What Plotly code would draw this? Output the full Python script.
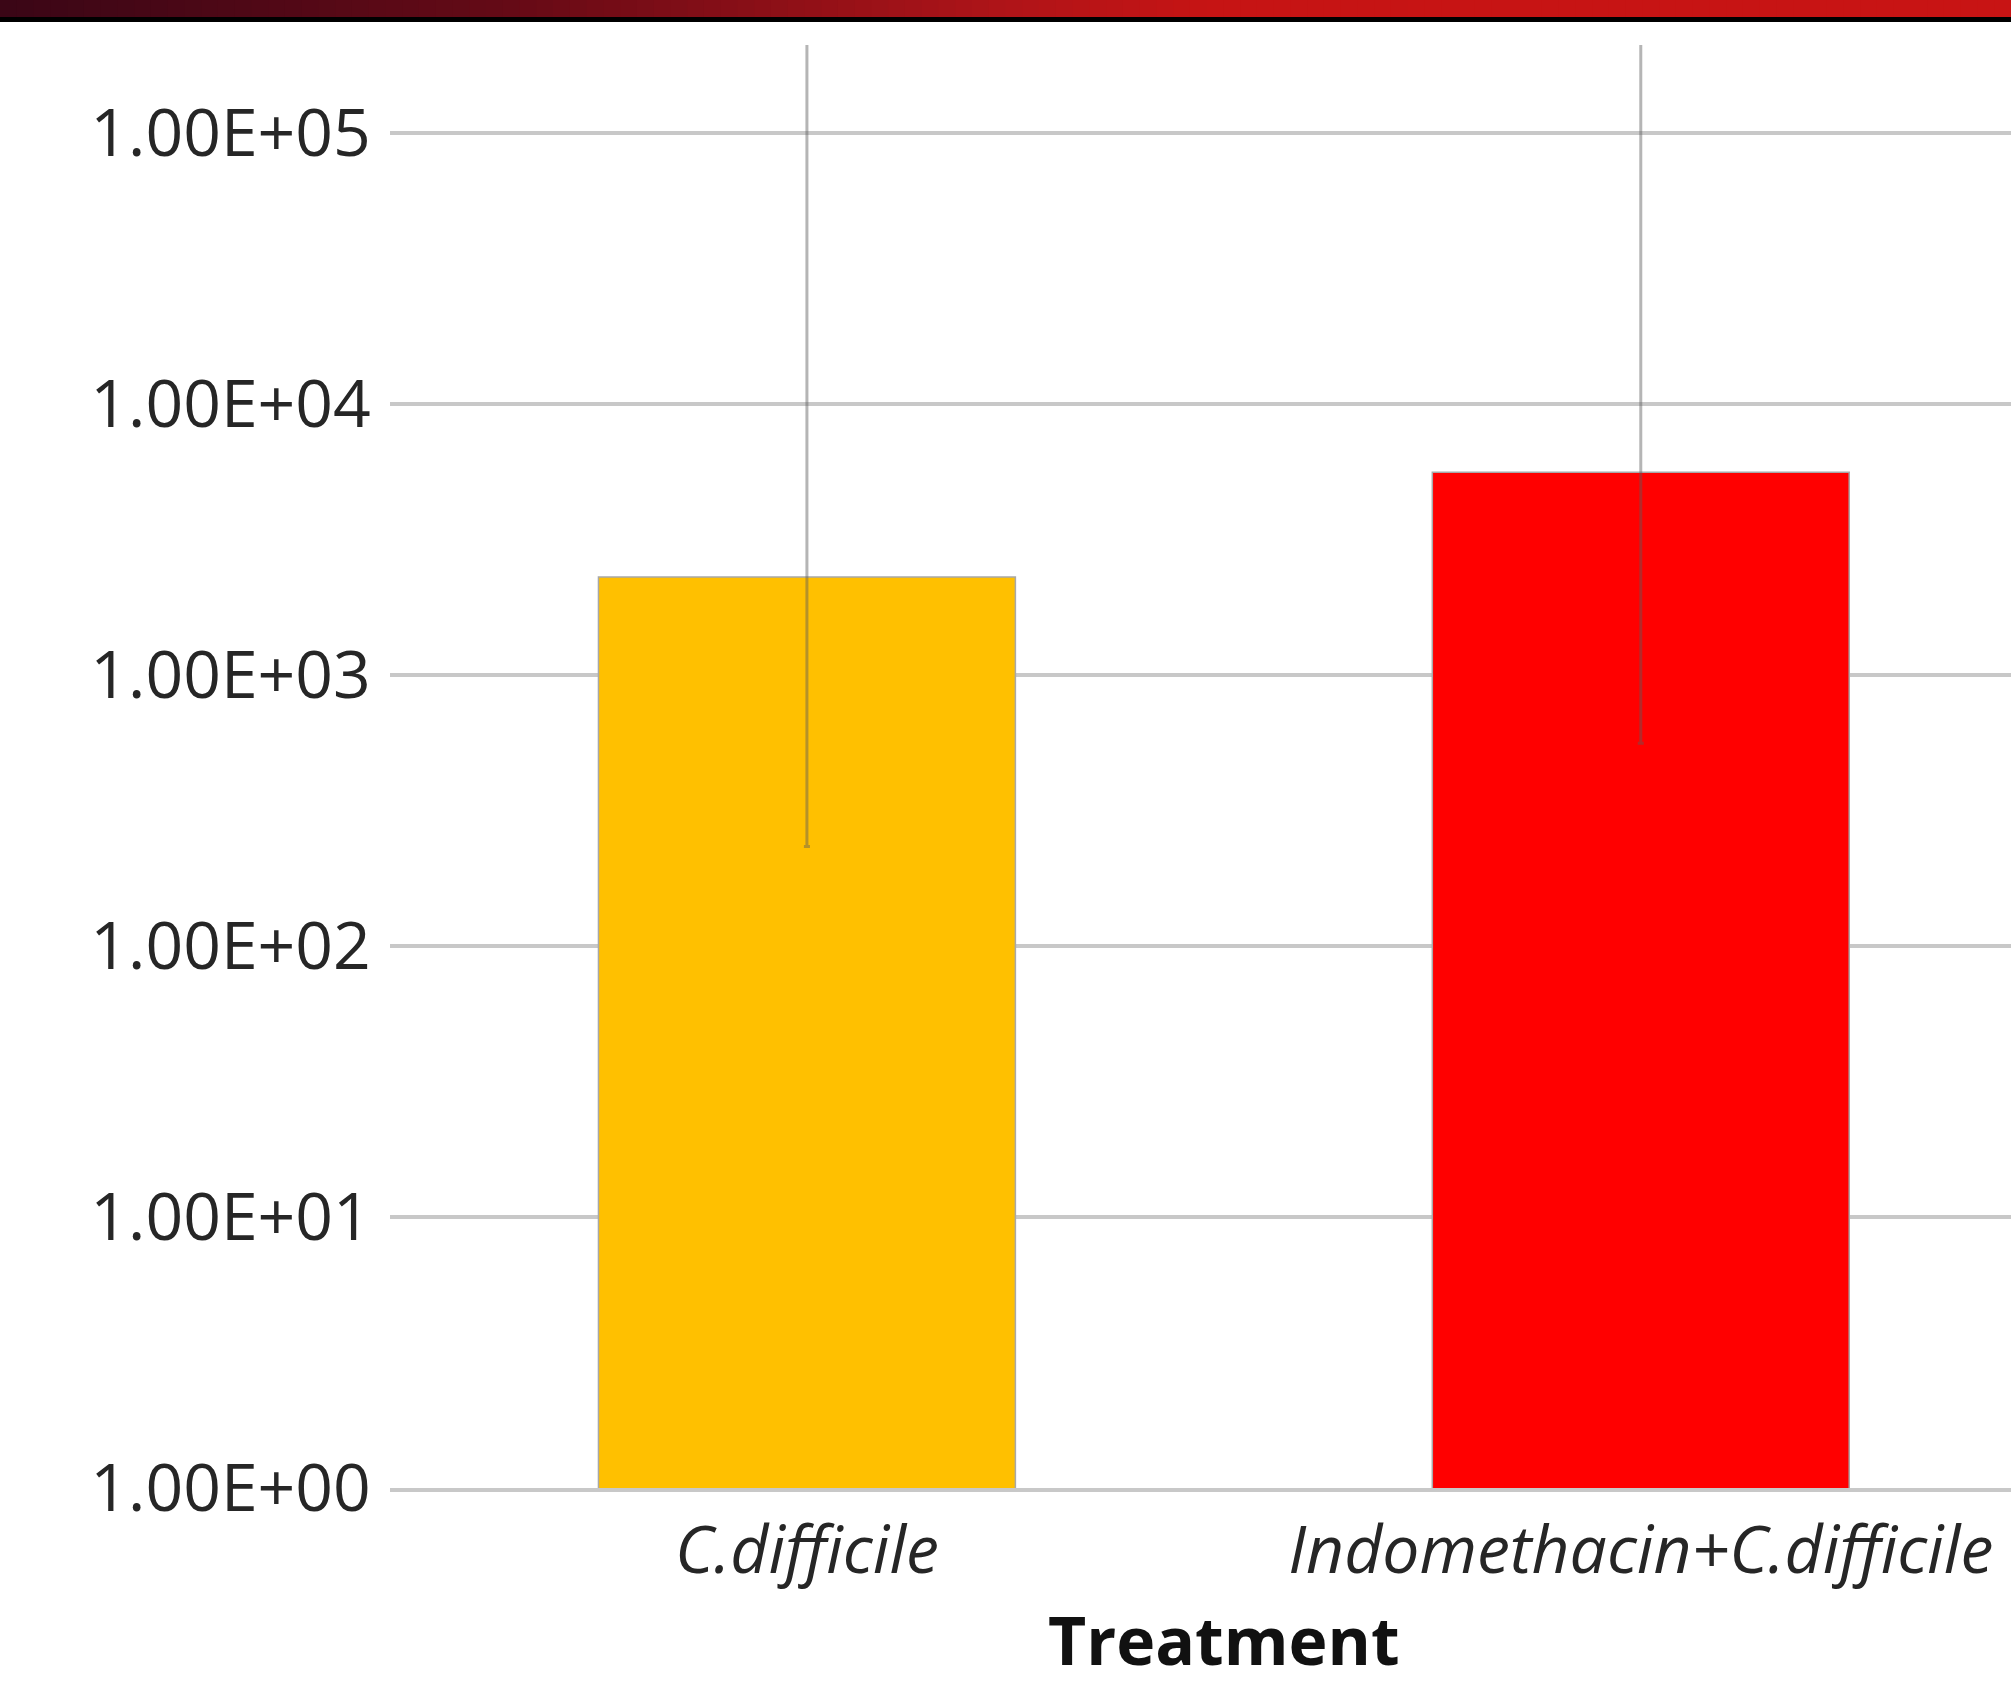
import plotly.graph_objects as go

# ---- data ----
categories = ["C.difficile", "Indomethacin+C.difficile"]
means = [2300, 5600]
err_lower = [233, 560]          # lower end of error bar
err_upper = [1.0e6, 1.0e6]      # upper end (off chart)
bar_colors = ["#FFC000", "#FF0000"]
ytick_vals = [1, 10, 100, 1000, 10000, 100000]
ytick_text = ["1.00E+00", "1.00E+01", "1.00E+02", "1.00E+03", "1.00E+04", "1.00E+05"]
x_title = "Treatment"

W, H = 2011, 1687
L, T, B = 390, 45, 199

fig = go.Figure()
fig.add_trace(go.Bar(
    x=categories,
    y=means,
    width=0.5,
    marker=dict(color=bar_colors, line=dict(color="#a8a8a8", width=1.5)),
    error_y=dict(
        type="data", symmetric=False,
        array=[u - m for u, m in zip(err_upper, means)],
        arrayminus=[m - l for m, l in zip(means, err_lower)],
        color="rgba(90,90,90,0.45)", thickness=3, width=3,
    ),
    showlegend=False,
))

# decorative banner gradient at top
def lerp(c1, c2, t):
    return tuple(int(round(a + (b - a) * t)) for a, b in zip(c1, c2))

stops = [(0.0, (58, 6, 22)), (0.25, (100, 10, 22)), (0.5, (175, 20, 24)), (0.6, (198, 20, 20)), (1.0, (200, 20, 20))]
n = 120
pw = W - L
ph = H - T - B
shapes = []
for i in range(n):
    f0 = i / n
    f1 = (i + 1) / n
    fm = (f0 + f1) / 2
    for j in range(len(stops) - 1):
        if stops[j][0] <= fm <= stops[j + 1][0]:
            t = (fm - stops[j][0]) / (stops[j + 1][0] - stops[j][0])
            c = lerp(stops[j][1], stops[j + 1][1], t)
            break
    x0 = (f0 * W - L) / pw
    x1 = (f1 * W - L) / pw + 0.001
    shapes.append(dict(type="rect", xref="paper", yref="paper",
                       x0=x0, x1=x1, y0=(H - B - 17) / ph, y1=(H - B + 2) / ph,
                       fillcolor="rgb(%d,%d,%d)" % c, line=dict(width=0), layer="above"))
shapes.append(dict(type="rect", xref="paper", yref="paper",
                   x0=-L / pw, x1=1.01, y0=(H - B - 22) / ph, y1=(H - B - 17) / ph,
                   fillcolor="black", line=dict(width=0), layer="above"))

fig.update_layout(
    width=W, height=H,
    margin=dict(l=L, r=0, t=T, b=B, pad=0),
    paper_bgcolor="white", plot_bgcolor="white",
    font=dict(family="Open Sans", color="#262626"),
    shapes=shapes,
    xaxis=dict(
        type="category", range=[-0.5, 1.444],
        showgrid=False, showline=True, linecolor="#c8c8c8", linewidth=4,
        tickfont=dict(family="Open Sans", size=66, color="#262626"),
        ticks="outside", ticklen=2, tickcolor="rgba(0,0,0,0)",
        tickvals=categories,
        ticktext=["<i>%s</i>" % c for c in categories],
    ),
    yaxis=dict(
        type="log", range=[0, 5.325],
        tickvals=ytick_vals, ticktext=ytick_text,
        showgrid=True, gridcolor="#c8c8c8", gridwidth=4,
        zeroline=False, showline=False,
        ticks="outside", ticklen=5, tickcolor="rgba(0,0,0,0)",
        tickfont=dict(family="Open Sans", size=66, color="#262626"),
    ),
    annotations=[dict(
        text="<b>%s</b>" % x_title, xref="x", yref="paper",
        x=0.5, y=-(1639 - (H - B)) / ph, xanchor="center", yanchor="middle",
        showarrow=False, font=dict(family="Open Sans", size=66, color="#111111"),
    )],
)

fig.write_html("out.html", config={"displayModeBar": False},
               post_script="document.body.style.margin='0';document.body.style.overflow='hidden';")
